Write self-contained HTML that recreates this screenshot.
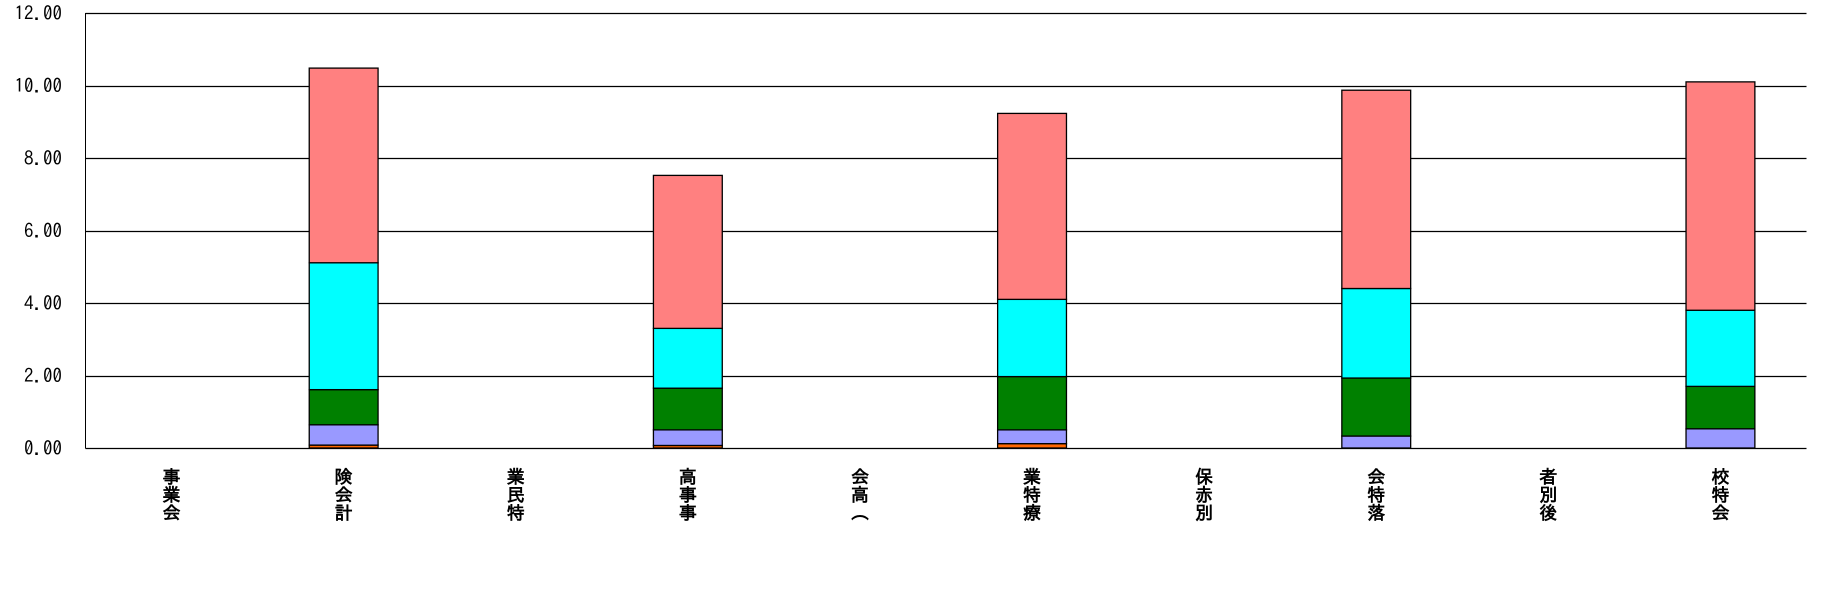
<!DOCTYPE html>
<html><head><meta charset="utf-8"><style>
html,body{margin:0;padding:0;background:#fff;}
svg{display:block;}
</style></head><body>
<svg id="chart" width="1848" height="605" xmlns="http://www.w3.org/2000/svg" font-family="'Liberation Sans','IPAGothic','Noto Sans CJK JP',sans-serif">
<g id="grid"></g>
<g id="bars"></g>
<g id="ylab"></g>
<g id="xlab"></g>
</svg>
<script>
const categories = ["事業会","険会計","業民特","高事事","会高︵","業特療","保赤別","会特落","者別後","校特会"];
const s1 = [0,0.08,0,0.07,0,0.12,0,0,0,0];
const s2 = [0,0.56,0,0.43,0,0.38,0,0.33,0,0.53];
const s3 = [0,0.97,0,1.15,0,1.47,0,1.60,0,1.17];
const s4 = [0,3.50,0,1.65,0,2.13,0,2.47,0,2.10];
const s5 = [0,5.37,0,4.22,0,5.13,0,5.47,0,6.30];
const yTicks = [0,2,4,6,8,10,12];
const yTickLabels = ["0.00","2.00","4.00","6.00","8.00","10.00","12.00"];
const series = [s1,s2,s3,s4,s5];
const colors = ["#ff6600","#9999ff","#008000","#00ffff","#ff8080"];
const seriesNames = ["series-1","series-2","series-3","series-4","series-5"];

const NS="http://www.w3.org/2000/svg";
const L=85.5,R=1806.5,T=13,B=448,yMax=12;
const y=v=>B-(v/yMax)*(B-T);
const band=(R-L)/categories.length;
const xc=i=>L+band*(i+0.5);
function mk(tag,parent){const e=document.createElementNS(NS,tag);parent.appendChild(e);return e;}
const grid=document.getElementById('grid'),bars=document.getElementById('bars'),ylab=document.getElementById('ylab'),xlab=document.getElementById('xlab');
yTicks.forEach((t,i)=>{
  const ln=mk('line',grid);
  
  
  const yy=Math.round(y(t))+0.5;
  ln.setAttribute('x1',L);ln.setAttribute('x2',R);ln.setAttribute('y1',yy);ln.setAttribute('y2',yy);
  ln.setAttribute('stroke','#000');ln.setAttribute('stroke-width','1.2');
  const tx=mk('text',ylab);
  
  
  tx.setAttribute('x',62);tx.setAttribute('y',y(t)+7);tx.setAttribute('text-anchor','end');
  tx.setAttribute('font-size','19');tx.setAttribute('font-family',"'IPAGothic','Liberation Mono',monospace");
  tx.textContent=yTickLabels[i];
});
const ax=mk('line',grid);


ax.setAttribute('x1',L);ax.setAttribute('x2',L);ax.setAttribute('y1',T);ax.setAttribute('y2',B+0.5);ax.setAttribute('stroke','#000');
const bw=band*0.4;
categories.forEach((c,i)=>{
  let acc=0;
  series.forEach((s,k)=>{
    const v=s[i];
    if(v>0){
      const r=mk('rect',bars);
      
      
      r.setAttribute('x',xc(i)-bw/2);r.setAttribute('width',bw);
      r.setAttribute('y',y(acc+v));r.setAttribute('height',y(acc)-y(acc+v));
      r.setAttribute('fill',colors[k]);r.setAttribute('stroke','#000');r.setAttribute('stroke-width','1.3');
    }
    acc+=v;
  });
  const g=mk('text',xlab);
  
  
  g.setAttribute('font-size','18');g.setAttribute('font-weight','bold');g.setAttribute('text-anchor','middle');
  [...c].forEach((ch,j)=>{
    const sp=mk('tspan',g);
    sp.setAttribute('x',xc(i));sp.setAttribute('y',483+j*18);
    sp.textContent=ch;
  });
});
</script>
</body></html>
